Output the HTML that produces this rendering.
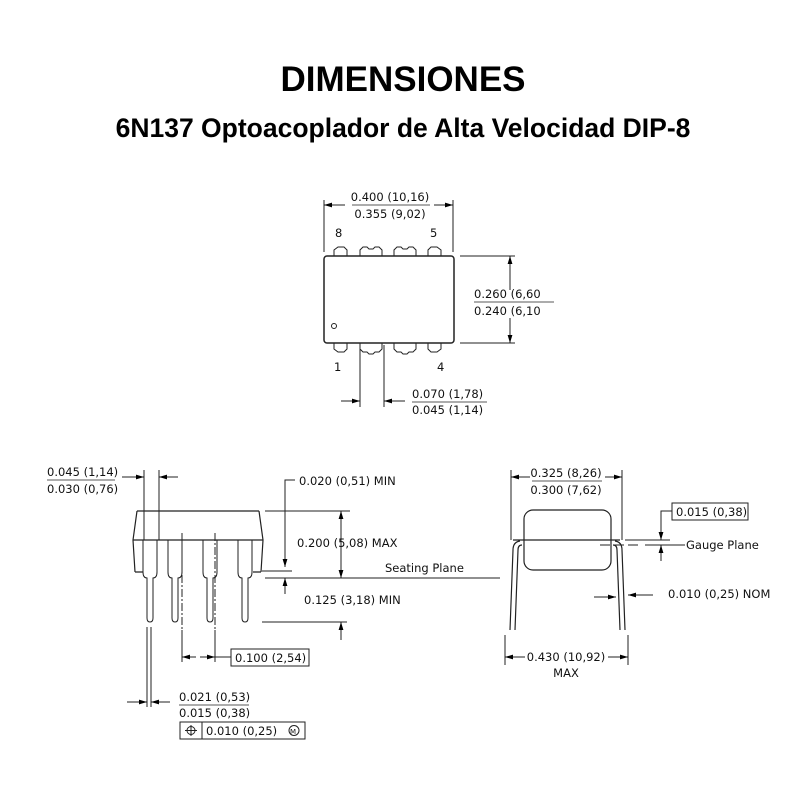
<!DOCTYPE html>
<html><head><meta charset="utf-8"><style>
html,body{margin:0;padding:0;background:#fff;width:800px;height:800px;overflow:hidden}
svg{display:block}
.t{font-family:"Liberation Sans",sans-serif;font-weight:bold;fill:#000;text-anchor:middle}
.d{font-family:"DejaVu Sans","Liberation Sans",sans-serif;font-size:11.5px;fill:#111}
</style></head><body>
<svg width="800" height="800" viewBox="0 0 800 800" xmlns="http://www.w3.org/2000/svg">
<defs><marker id="a" viewBox="0 0 10 10" refX="10" refY="5" markerWidth="8" markerHeight="8" orient="auto-start-reverse"><path d="M0,2 L10,5 L0,8 z" fill="#000"/></marker></defs>
<text class="t" x="403" y="91" font-size="35">DIMENSIONES</text>
<text class="t" x="403" y="137" font-size="26.5">6N137 Optoacoplador de Alta Velocidad DIP-8</text>

<g stroke="#222" fill="none" stroke-width="1">
<rect x="324" y="256" width="130" height="87" rx="3" stroke-width="1.5"/>
<circle cx="334" cy="326" r="2.5"/>
<path d="M334,256 v-6 l4,-3 h6 l3,3 v6 M360,256 v-6 l3,-3 h4 l2,2 h4 l2,-2 h4 l3,3 v6 M394,256 v-6 l3,-3 h4 l2,2 h4 l2,-2 h4 l3,3 v6 M428,256 v-6 l3,-3 h6 l4,3 v6"/>
<path d="M334,343 v6 l4,3 h6 l3,-3 v-6 M360,343 v6 l3,3 h4 l2,2 h4 l2,-2 h4 l3,-3 v-6 M394,343 v6 l3,3 h4 l2,2 h4 l2,-2 h4 l3,-3 v-6 M428,343 v6 l3,3 h6 l4,-3 v-6"/>
<path d="M324,200 v52 M453,200 v52"/>
<path d="M345,205 h-21" marker-end="url(#a)"/><path d="M434,205 h19" marker-end="url(#a)"/>
<path d="M460,256 h55 M460,343 h55"/>
<path d="M510,290 v-34" marker-end="url(#a)"/><path d="M510,318 v25" marker-end="url(#a)"/>
<path d="M360,345 v62 M384,345 v62"/>
<path d="M341,401 h19" marker-end="url(#a)"/><path d="M405,401 h-21" marker-end="url(#a)"/>
<path d="M352,205 h78" stroke-width="0.8"/>
<path d="M474,302 h80 M412,402 h75" stroke-width="0.8"/>

<path d="M137,511 h122 M133,540 h130 M137,511 l-4,29 l2,32 M259,511 l4,29 l-2,32 M135,572 h8 M253,572 h8" stroke-width="1.2"/>
<path d="M143,540 v32 q0,6 4,6 v40 q0,4 3,4 q3,0 3,-4 v-40 q4,0 4,-6 v-32"/>
<path d="M168,540 v32 q0,6 4,6 v40 q0,4 3,4 q3,0 3,-4 v-40 q4,0 4,-6 v-32"/>
<path d="M203,540 v32 q0,6 4,6 v40 q0,4 3,4 q3,0 3,-4 v-40 q4,0 4,-6 v-32"/>
<path d="M238,540 v32 q0,6 4,6 v40 q0,4 3,4 q3,0 3,-4 v-40 q4,0 4,-6 v-32"/>
<path d="M182,533 v100 M215,533 v100" stroke-dasharray="8,2,2,2"/>
<path d="M144,470 v70 M159,470 v70"/>
<path d="M122,477 h22" marker-end="url(#a)"/><path d="M178,477 h-19" marker-end="url(#a)"/>
<path d="M265,511 h85 M265,578 h235 M262,622 h85"/>
<path d="M341,545 v-34" marker-end="url(#a)"/><path d="M341,545 v33" marker-end="url(#a)"/>
<path d="M341,640 v-18" marker-end="url(#a)"/>
<path d="M295,480 h-10 v87" marker-end="url(#a)"/>
<path d="M285,594 v-16" marker-end="url(#a)"/>
<path d="M262,571 h30"/>
<path d="M182,630 v32 M215,630 v32"/>
<path d="M196,657 h-14" marker-end="url(#a)"/><path d="M200,657 h15" marker-end="url(#a)"/>
<path d="M215,657 h16"/>
<rect x="231" y="649" width="78" height="17"/>
<path d="M147,627 v80 M151,627 v80"/>
<path d="M127,702 h20" marker-end="url(#a)"/><path d="M170,702 h-19" marker-end="url(#a)"/>
<rect x="180" y="722" width="125" height="17"/><path d="M202,722 v17"/>
<circle cx="191" cy="730.5" r="4"/><path d="M185,730.5 h12 M191,725 v11"/>
<circle cx="294" cy="730.5" r="5"/>
<path d="M47,480 h68 M179,705 h70" stroke-width="0.8"/>

<rect x="524" y="510" width="87" height="60" rx="9" stroke-width="1.2"/>
<path d="M513,540 h107 M510,630 l3,-80 q0,-8 7,-9 M515,630 l3,-80 q0,-5 4,-5" stroke-width="1.2"/>
<path d="M625,630 l-3,-80 q0,-8 -7,-9 M620,630 l-3,-80 q0,-5 -4,-5" stroke-width="1.2"/>
<path d="M600,545 h40 M645,545 h10" stroke-dasharray="10,4"/>
<path d="M511,470 v70 M622,470 v70"/>
<path d="M530,477 h-19" marker-end="url(#a)"/><path d="M605,477 h17" marker-end="url(#a)"/>
<path d="M625,540 h45 M655,545 h30"/>
<path d="M672,511 h-11 v29" marker-end="url(#a)"/>
<path d="M661,561 v-16" marker-end="url(#a)"/>
<rect x="672" y="503" width="76" height="17"/>
<path d="M594,597 h22" marker-end="url(#a)"/><path d="M653,595 h-25" marker-end="url(#a)"/>
<path d="M505,635 v30 M628,635 v30"/>
<path d="M525,657 h-20" marker-end="url(#a)"/><path d="M608,657 h20" marker-end="url(#a)"/>
<path d="M532,481 h70" stroke-width="0.8"/>
</g>

<g class="d">
<text x="390" y="201" text-anchor="middle">0.400 (10,16)</text>
<text x="390" y="218" text-anchor="middle">0.355 (9,02)</text>
<text x="335" y="237">8</text><text x="430" y="237">5</text>
<text x="334" y="371">1</text><text x="437" y="371">4</text>
<text x="474" y="298">0.260 (6,60</text>
<text x="474" y="315">0.240 (6,10</text>
<text x="412" y="398">0.070 (1,78)</text>
<text x="412" y="414">0.045 (1,14)</text>
<text x="47" y="476">0.045 (1,14)</text>
<text x="47" y="493">0.030 (0,76)</text>
<text x="299" y="485">0.020 (0,51) MIN</text>
<text x="297" y="547">0.200 (5,08) MAX</text>
<text x="385" y="572">Seating Plane</text>
<text x="304" y="604">0.125 (3,18) MIN</text>
<text x="235" y="662">0.100 (2,54)</text>
<text x="179" y="701">0.021 (0,53)</text>
<text x="179" y="717">0.015 (0,38)</text>
<text x="206" y="735">0.010 (0,25)</text>
<text x="290" y="734" font-size="7">M</text>
<text x="566" y="477" text-anchor="middle">0.325 (8,26)</text>
<text x="566" y="494" text-anchor="middle">0.300 (7,62)</text>
<text x="676" y="516">0.015 (0,38)</text>
<text x="686" y="549">Gauge Plane</text>
<text x="668" y="598">0.010 (0,25) NOM</text>
<text x="566" y="661" text-anchor="middle">0.430 (10,92)</text>
<text x="566" y="677" text-anchor="middle">MAX</text>
</g>
</svg>
</body></html>
